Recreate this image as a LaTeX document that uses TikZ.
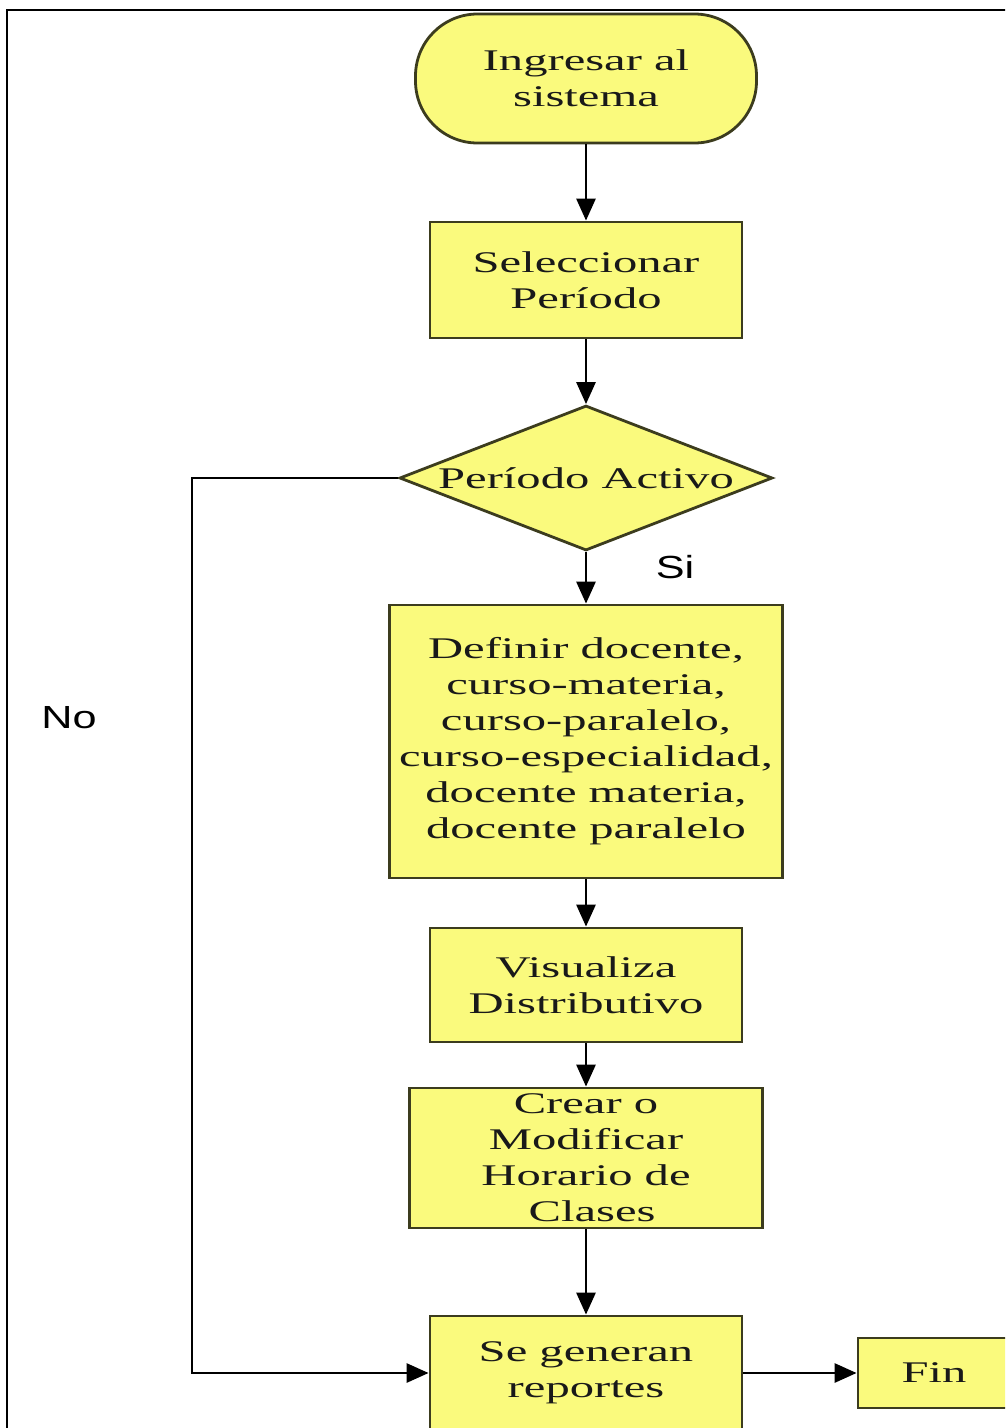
\documentclass[tikz,border=0pt]{standalone}
\usepackage{fontspec}
\setmainfont{Liberation Serif}[FakeStretch=1.62]
\newfontfamily\etiquetafont{Liberation Sans}[FakeStretch=1.35]
\usetikzlibrary{shapes.geometric}
\usetikzlibrary{arrows.meta}
\definecolor{amarilloCaja}{RGB}{250,250,125}
\definecolor{bordeCaja}{RGB}{60,60,30}

\begin{document}
\begin{tikzpicture}[x=1pt, y=-1pt,
		caja/.style={draw=bordeCaja, line width=2.8pt, fill=amarilloCaja, inner sep=0pt,
			align=center, text=black!90, font=\fontsize{30}{36}\selectfont},
		flecha/.style={line width=2.8pt, -{Triangle[length=22pt,width=19pt]}},
		etiqueta/.style={font=\etiquetafont\fontsize{32}{36}\selectfont}]
			\useasboundingbox (0, 0) rectangle (1005, 1428);
			\clip (0, 0) rectangle (1005, 1428);
			\fill[white] (0, 0) rectangle (1005, 1428);
			\draw[line width=2.5pt] (7, 10) rectangle (1040, 1460);
			% nodos del flujo
			\node[caja, rounded corners=62pt, minimum width=341pt, minimum height=129pt] (ingresar) at (586, 78.5) {Ingresar al\\sistema};
			\node[caja, minimum width=312pt, minimum height=116pt] (seleccionar) at (586, 280) {Seleccionar\\Período};
			\node[caja, diamond, aspect=2.57, minimum width=373pt, minimum height=145pt] (activo) at (586, 478) {Período Activo};
			\node[caja, minimum width=393pt, minimum height=273pt] (definir) at (586, 741.5) {Definir docente,\\curso-materia,\\curso-paralelo,\\curso-especialidad,\\docente materia,\\docente paralelo};
			\node[caja, minimum width=312pt, minimum height=114pt] (visualiza) at (586, 985) {Visualiza\\Distributivo};
			\node[caja, minimum width=353pt, minimum height=140pt] (crear) at (586, 1158) {Crear o\\Modificar\\Horario de\\\ Clases};
			\node[caja, minimum width=312pt, minimum height=114pt] (reportes) at (586, 1373) {Se generan\\reportes};
			\node[caja, minimum width=152pt, minimum height=70pt] (fin) at (934, 1373) {Fin};
			\node[etiqueta] (si) at (675, 567) {Si};
			\node[etiqueta] (no) at (69, 718) {No};
			\coordinate (retorno) at (192, 478);
			% conectores
			\draw[flecha] (ingresar) -- (seleccionar);
			\draw[flecha] (seleccionar) -- (activo);
			\draw[flecha] (activo) -- (definir);
			\draw[flecha] (definir) -- (visualiza);
			\draw[flecha] (visualiza) -- (crear);
			\draw[flecha] (crear) -- (reportes);
			\draw[flecha] (activo.west) -- (retorno) |- (reportes.west);
			\draw[flecha] (reportes) -- (fin);
		\end{tikzpicture}
\end{document}
